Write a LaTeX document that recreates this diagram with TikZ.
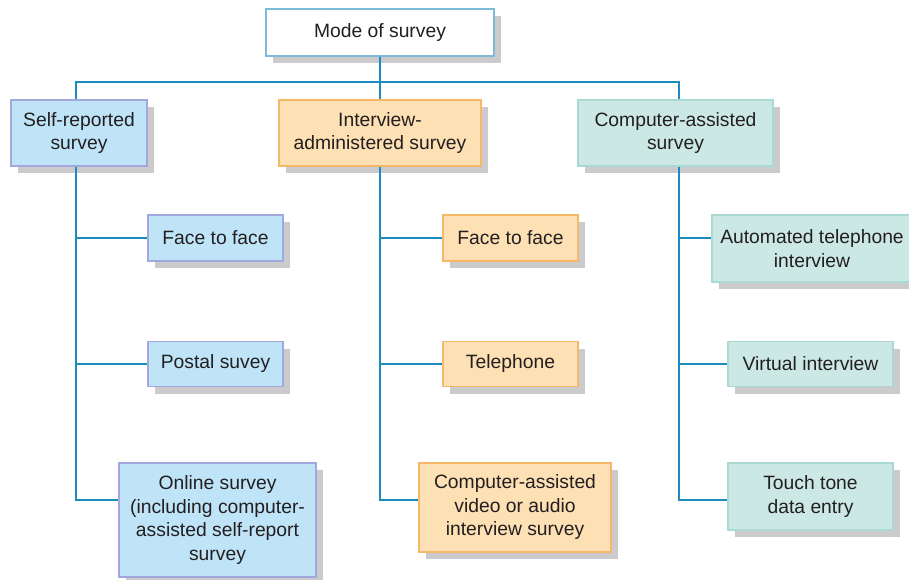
\documentclass[tikz,border=0pt]{standalone}
\usepackage{fontspec}
\setmainfont{Liberation Sans}
\usetikzlibrary{shadows}
\definecolor{linec}{HTML}{1A8CC0}
\definecolor{shadowc}{HTML}{CBCBCD}
\definecolor{txtc}{HTML}{231F20}
\definecolor{topb}{HTML}{7DBBD8}
\definecolor{bluef}{HTML}{BFE4F8}
\definecolor{blueb}{HTML}{A2A8DC}
\definecolor{orangef}{HTML}{FDE0B4}
\definecolor{orangeb}{HTML}{F6B868}
\definecolor{tealf}{HTML}{CCE8E4}
\definecolor{tealb}{HTML}{A9D9D3}
\tikzset{
  x=1pt, y=-1pt,
  box/.style={line width=1.3pt, align=center, inner sep=0pt, text=txtc,
    font=\fontsize{19.3}{23.5}\selectfont,
    drop shadow={shadow xshift=7pt, shadow yshift=-7pt, fill=shadowc, opacity=1}},
  topbox/.style={box, draw=topb, fill=white},
  bluebox/.style={box, draw=blueb, fill=bluef},
  orangebox/.style={box, draw=orangeb, fill=orangef},
  tealbox/.style={box, draw=tealb, fill=tealf},
  conn/.style={draw=linec, line width=1.8pt}
}
\begin{document}
\begin{tikzpicture}
\useasboundingbox (0,0) rectangle (909,580);
\clip (0,0) rectangle (909,580);
\coordinate (bus) at (380,82);
\coordinate (sL) at (76,166);
\coordinate (sM) at (380,166);
\coordinate (sR) at (679,166);

\node[topbox, minimum width=228pt, minimum height=47pt] (top) at (380,32.5) {Mode of survey};
\node[bluebox, minimum width=136pt, minimum height=66pt] (self) at (79,133) {Self-reported\\survey};
\node[orangebox, minimum width=202pt, minimum height=66pt] (inter) at (380,133) {Interview-\\administered survey};
\node[tealbox, minimum width=195pt, minimum height=66pt] (comp) at (675.5,133) {Computer-assisted\\survey};

\node[bluebox, minimum width=135pt, minimum height=46pt] (L1) at (215.5,238) {Face to face};
\node[bluebox, minimum width=135pt, minimum height=45pt] (L2) at (215.5,364) {Postal suvey};
\node[bluebox, minimum width=197pt, minimum height=114pt] (L3) at (217.5,520) {Online survey\\(including computer-\\assisted self-report\\survey};

\node[orangebox, minimum width=135pt, minimum height=46pt] (M1) at (510.5,238) {Face to face};
\node[orangebox, minimum width=135pt, minimum height=45pt] (M2) at (510.5,364) {Telephone};
\node[orangebox, minimum width=192pt, minimum height=89pt] (M3) at (515,507.5) {Computer-assisted\\video or audio\\interview survey};

\node[tealbox, minimum width=200pt, minimum height=67pt] (R1) at (812,248.5) {Automated telephone\\interview};
\node[tealbox, minimum width=165pt, minimum height=45pt] (R2) at (810.5,364) {Virtual interview};
\node[tealbox, minimum width=165pt, minimum height=67pt] (R3) at (810.5,496.5) {Touch tone\\data entry};

% top tree
\draw[conn] (top.south) -- (bus);
\draw[conn] (self.north -| sL) |- (bus) -| (comp.north -| sR);
\draw[conn] (bus) -- (inter.north);
% left spine
\draw[conn] (self.south -| sL) |- ([yshift=20pt]L3.west);
\draw[conn] (L1.west -| sL) -- (L1.west);
\draw[conn] (L2.west -| sL) -- (L2.west);
% middle spine
\draw[conn] (inter.south) |- ([yshift=7.5pt]M3.west);
\draw[conn] (M1.west -| sM) -- (M1.west);
\draw[conn] (M2.west -| sM) -- (M2.west);
% right spine
\draw[conn] (comp.south -| sR) |- ([yshift=-3.5pt]R3.west);
\draw[conn] ([yshift=10.5pt]R1.west -| sR) -- ([yshift=10.5pt]R1.west);
\draw[conn] (R2.west -| sR) -- (R2.west);
\end{tikzpicture}
\end{document}
